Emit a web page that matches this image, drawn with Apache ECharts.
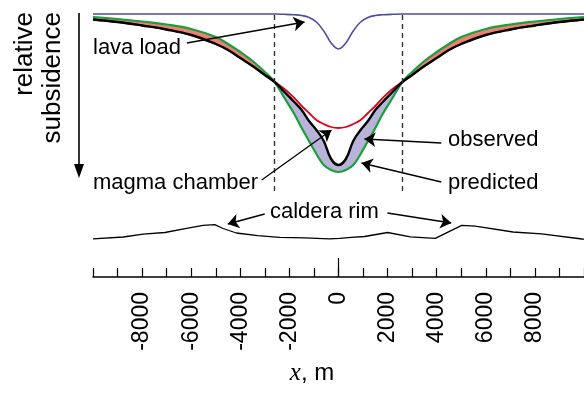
<!DOCTYPE html>
<html><head><meta charset="utf-8">
<script src="https://cdn.jsdelivr.net/npm/echarts@6/dist/echarts.min.js"></script>
<style>html,body{margin:0;padding:0;background:#fff}#c{width:584px;height:398px}</style>
</head><body><div id="c"></div>
<script>
// x positions (m)
const xs = [-10000,-9000,-8000,-7000,-6000,-5000,-4500,-4000,-3500,-3000,-2600,-2200,-1800,-1500,-1200,-900,-600,-300,0,300,600,900,1200,1500,1800,2200,2600,3000,3500,4000,4500,5000,6000,7000,8000,9000,10000];
// relative subsidence (down = larger)
const lavaLoad     = [14,14,14,14,14,14,14,14,14,14,14,14.3,14.8,15.5,17.5,22,31,43,49,43,31,22,17.5,15.5,14.8,14.3,14,14,14,14,14,14,14,14,14,14,14];
const predicted    = [17,19,21.5,24.5,29,37,44,52,61,72,82,98,114,128,141,154,165,170,172,170,165,154,141,128,114,98,82,72,61,52,44,37,29,24.5,21.5,19,17];
const observed     = [19.5,22,25.5,29.5,35,44,50,58,66,75,82,92,102,110,121,130,141,159,165,159,141,130,121,110,102,92,82,75,66,58,50,44,35,29.5,25.5,22,19.5];
const magmaChamber = [19.5,22,25.5,29.5,35,44,50,58,66,75,82,89,98,106,113,120,124,127,128,127,124,120,113,106,98,89,82,75,66,58,50,44,35,29.5,25.5,22,19.5];
// topography profile
const topoX = [-10000,-8770,-7955,-7070,-6190,-5516,-5040,-4700,-4160,-3290,-2400,-1380,-366,40,530,1060,2000,2930,3940,5020,5570,7110,8270,9920,10000];
const topoY = [238.8,237,234.2,232.5,228.3,225.3,224.6,228.5,233,235.7,237.3,237.8,238.8,238.3,237.3,236.5,232.5,236.8,238.3,225.4,226.2,232,233.8,239,239.2];
const tickLabels = [-8000,-6000,-4000,-2000,0,2000,4000,6000,8000];
const centerTick = [0];
const dashedX = [-2600, 2600];

const pairs = a => xs.map((x,i)=>[x,a[i]]);
const upper = xs.map((x,i)=>[x, Math.min(predicted[i],observed[i])]);

const FONT = 'Liberation Sans, Arial, sans-serif';
const SM = 0.4;
const common = {type:'line', symbol:'none', smooth:SM, silent:true};

const chart = echarts.init(document.getElementById('c'));
chart.setOption({
  animation:false,
  grid:{left:93, top:0, width:492, height:277},
  xAxis:[{
    type:'value', min:-10000, max:10000, interval:1000, position:'bottom',
    axisLine:{show:true, onZero:false, lineStyle:{color:'#000', width:1.5}},
    axisTick:{show:true, inside:true, length:9, lineStyle:{color:'#000', width:1.2}},
    axisLabel:{show:true, customValues:tickLabels, formatter:v=>String(v), rotate:90, margin:15, color:'#000', fontSize:23, fontFamily:FONT},
    splitLine:{show:false}
  },{
    type:'value', min:-10000, max:10000, position:'top', offset:-277, z:5,
    axisLine:{show:false},
    axisTick:{show:true, inside:false, length:19, customValues:centerTick, lineStyle:{color:'#000', width:1.2}},
    axisLabel:{show:false}, splitLine:{show:false}
  }],
  yAxis:{type:'value', inverse:true, min:0, max:277, show:false},
  series:[
    Object.assign({}, common, {name:'fillA', data:pairs(observed), lineStyle:{opacity:0}, areaStyle:{color:'#ee7f74', opacity:1, origin:'start'}}),
    Object.assign({}, common, {name:'fillB', data:pairs(predicted), lineStyle:{opacity:0}, areaStyle:{color:'#b9b3d9', opacity:1, origin:'start'}}),
    Object.assign({}, common, {name:'fillC', data:upper, lineStyle:{opacity:0}, areaStyle:{color:'#ffffff', opacity:1, origin:'start'}}),
    Object.assign({}, common, {name:'predicted', data:pairs(predicted), lineStyle:{color:'#17a03c', width:2.2},
      markLine:{silent:true, symbol:'none', label:{show:false},
        lineStyle:{color:'#333', width:1.4, type:[5,4]},
        data:dashedX.map(x=>[{coord:[x,15]},{coord:[x,192]}])}}),
    Object.assign({}, common, {name:'magma', data:pairs(magmaChamber), lineStyle:{color:'#e2001a', width:1.8}}),
    Object.assign({}, common, {name:'observed', data:pairs(observed), lineStyle:{color:'#000', width:2.4}}),
    Object.assign({}, common, {name:'lava', data:pairs(lavaLoad), lineStyle:{color:'#4e4ca3', width:1.6}}),
    {type:'line', name:'topo', symbol:'none', silent:true, data:topoX.map((x,i)=>[x,topoY[i]]),
      lineStyle:{color:'#000', width:1.3},
      markLine:{silent:true, symbol:['none','arrow'], symbolSize:11, label:{show:false},
        lineStyle:{color:'#000', width:1.3, type:'solid'},
        data:[
          [{coord:[-6179,43]},{coord:[-1382,22]}],
          [{coord:[-3130,180]},{coord:[-285,130]}],
          [{coord:[4187,143]},{coord:[1057,139]}],
          [{coord:[4187,182]},{coord:[935,163]}],
          [{coord:[-3008,214]},{coord:[-4512,224]}],
          [{coord:[1992,213]},{coord:[4593,223]}]
        ]}}
  ],
  graphic:[
    {type:'text', z:100, left:93, top:37, style:{text:'lava load', font:'22px '+FONT, fill:'#000'}},
    {type:'text', z:100, left:93, top:172, style:{text:'magma chamber', font:'22px '+FONT, fill:'#000'}},
    {type:'text', z:100, left:448, top:129, style:{text:'observed', font:'22px '+FONT, fill:'#000'}},
    {type:'text', z:100, left:448, top:172, style:{text:'predicted', font:'22px '+FONT, fill:'#000'}},
    {type:'text', z:100, left:270, top:201, style:{text:'caldera rim', font:'22px '+FONT, fill:'#000'}},
    {type:'text', z:100, x:11, y:12, rotation:Math.PI/2, style:{text:'relative\nsubsidence', font:'26px '+FONT, fill:'#000', align:'right', verticalAlign:'top', lineHeight:28}},
    {type:'line', z:100, shape:{x1:79, y1:13, x2:79, y2:168}, style:{stroke:'#000', lineWidth:1.6}},
    {type:'polygon', z:100, shape:{points:[[74,164],[84,164],[79,178]]}, style:{fill:'#000'}},
    {type:'text', z:100, x:312, y:373, style:{text:'{i|x}, m', align:'center', verticalAlign:'middle', font:'24px '+FONT, fill:'#000',
      rich:{i:{fontFamily:'Liberation Serif, Times New Roman, serif', fontStyle:'italic', fontSize:25}}}}
  ]
});
</script>
</body></html>
